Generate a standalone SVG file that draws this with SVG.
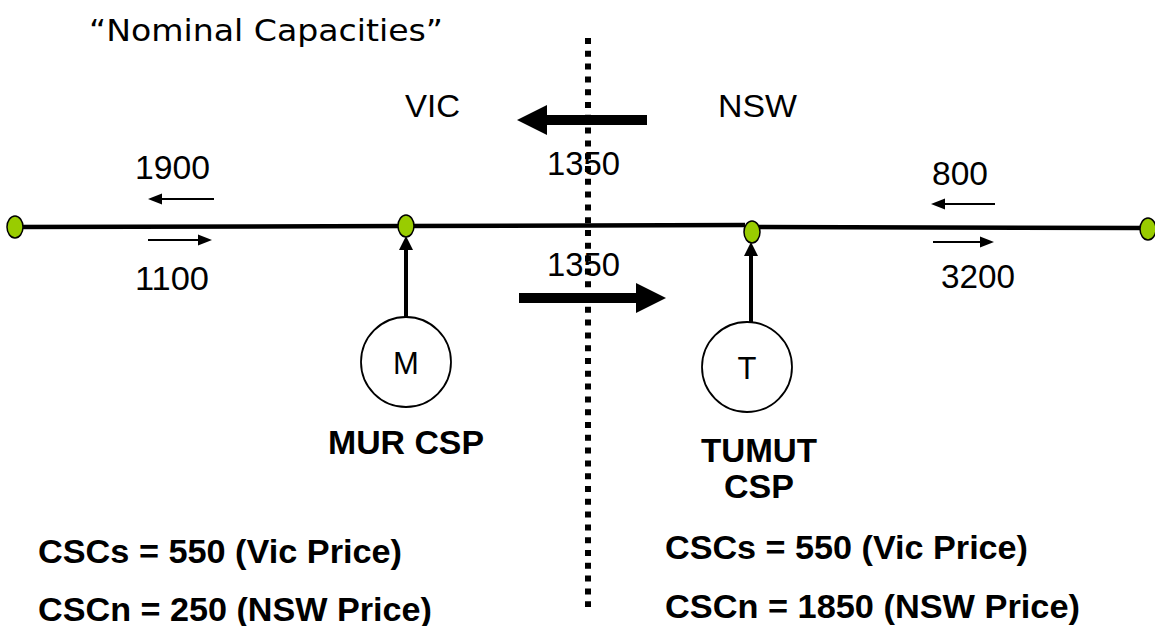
<svg xmlns="http://www.w3.org/2000/svg" width="1155" height="626" viewBox="0 0 1155 626">
<style>
.t{font-family:"Liberation Sans",Arial,sans-serif;fill:#000}
.n{font-size:33px}
.b{font-weight:bold;font-size:34px}
.bus{fill:#99cc00;stroke:#000;stroke-width:1.5}
.line{stroke:#000;stroke-width:4.5;fill:none}
.thin{stroke:#000;stroke-width:2;fill:none}
.gen{fill:#fff;stroke:#000;stroke-width:1.8}
</style>
<rect width="1155" height="626" fill="#fff"/>
<text class="t" x="89" y="41" style="font-family:'DejaVu Sans',Verdana,sans-serif;font-size:31px" textLength="354" lengthAdjust="spacingAndGlyphs">“Nominal Capacities”</text>
<g id="divider"><line x1="588" y1="38" x2="588" y2="607" stroke="#000" stroke-width="6" stroke-dasharray="6 6.8"/></g>
<g id="region-labels">
<text class="t" x="405" y="117" style="font-size:32px" textLength="55" lengthAdjust="spacingAndGlyphs">VIC</text>
<text class="t" x="718" y="117" style="font-size:32px" textLength="79" lengthAdjust="spacingAndGlyphs">NSW</text>
</g>
<g id="connectors">
<line class="line" x1="15" y1="227" x2="406" y2="226"/>
<line class="line" x1="406" y1="226" x2="745" y2="225"/>
<line class="line" x1="752" y1="227" x2="1148" y2="228"/>
<line class="thin" x1="160" y1="199" x2="214" y2="199"/>
<polygon points="148,199 162,193.5 162,204.5"/>
<line class="thin" x1="148" y1="240" x2="200" y2="240"/>
<polygon points="212,240 198,234.5 198,245.5"/>
<line class="thin" x1="943" y1="204" x2="995" y2="204"/>
<polygon points="931,204 945,198.5 945,209.5"/>
<line class="thin" x1="933" y1="242" x2="982" y2="242"/>
<polygon points="994,242 980,236.5 980,247.5"/>
<line x1="545" y1="120" x2="647" y2="120" stroke="#000" stroke-width="10"/>
<polygon points="517,120 547,105 547,135"/>
<line x1="519" y1="298" x2="638" y2="298" stroke="#000" stroke-width="10"/>
<polygon points="666,298 636,283 636,313"/>
<line x1="406" y1="248" x2="406" y2="318" stroke="#000" stroke-width="4"/>
<polygon points="406,236 399,250 413,250"/>
<line x1="751" y1="254" x2="751" y2="322" stroke="#000" stroke-width="4"/>
<polygon points="751,242 744,256 758,256"/>
</g>
<g id="flow-labels">
<text class="t n" x="135" y="179" textLength="75" lengthAdjust="spacingAndGlyphs">1900</text>
<text class="t n" x="135" y="290" textLength="74" lengthAdjust="spacingAndGlyphs">1100</text>
<text class="t n" x="932" y="185" textLength="56" lengthAdjust="spacingAndGlyphs">800</text>
<text class="t n" x="941" y="288" textLength="74" lengthAdjust="spacingAndGlyphs">3200</text>
<text class="t n" x="547" y="175" textLength="73" lengthAdjust="spacingAndGlyphs">1350</text>
<text class="t n" x="547" y="276" textLength="73" lengthAdjust="spacingAndGlyphs">1350</text>
</g>
<g id="bus-left"><ellipse class="bus" cx="15" cy="227" rx="8" ry="11"/></g>
<g id="bus-mur"><ellipse class="bus" cx="406" cy="226" rx="8" ry="11"/></g>
<g id="bus-tumut"><ellipse class="bus" cx="752" cy="232" rx="8" ry="11"/></g>
<g id="bus-right"><ellipse class="bus" cx="1148" cy="229" rx="8" ry="11"/></g>
<g id="gen-m">
<circle class="gen" cx="406" cy="362" r="45"/>
<text class="t" x="406" y="374" text-anchor="middle" style="font-size:31px">M</text>
<text class="t b" x="328" y="454" textLength="156" lengthAdjust="spacingAndGlyphs">MUR CSP</text>
</g>
<g id="gen-t">
<circle class="gen" cx="747" cy="367" r="45"/>
<text class="t" x="747" y="379" text-anchor="middle" style="font-size:31px">T</text>
<text class="t b" x="759" y="462" text-anchor="middle" textLength="116" lengthAdjust="spacingAndGlyphs">TUMUT</text>
<text class="t b" x="759" y="498" text-anchor="middle" textLength="70" lengthAdjust="spacingAndGlyphs">CSP</text>
</g>
<g id="contracts">
<text class="t b" x="38" y="563" textLength="364" lengthAdjust="spacingAndGlyphs">CSCs = 550 (Vic Price)</text>
<text class="t b" x="38" y="621" textLength="394" lengthAdjust="spacingAndGlyphs">CSCn = 250 (NSW Price)</text>
<text class="t b" x="665" y="559" textLength="363" lengthAdjust="spacingAndGlyphs">CSCs = 550 (Vic Price)</text>
<text class="t b" x="665" y="618" textLength="415" lengthAdjust="spacingAndGlyphs">CSCn = 1850 (NSW Price)</text>
</g>
</svg>
